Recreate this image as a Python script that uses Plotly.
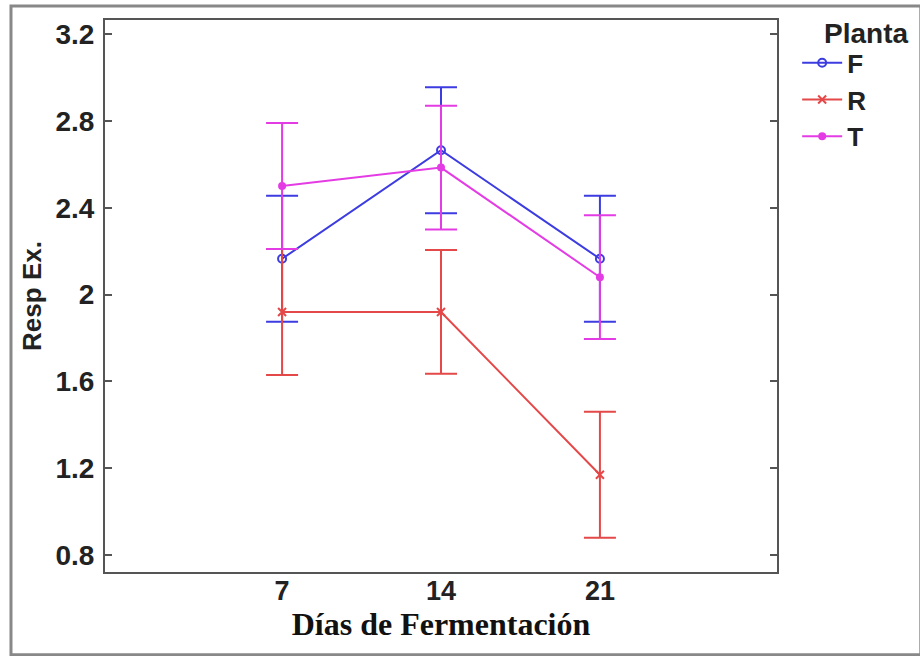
import plotly.graph_objects as go

dias = [7, 14, 21]
plantas = ["F", "R", "T"]
media_F = [2.165, 2.665, 2.165]
media_R = [1.92, 1.92, 1.17]
media_T = [2.50, 2.585, 2.08]
err_F = [0.29, 0.29, 0.29]
err_R = [0.29, 0.285, 0.29]
err_T = [0.29, 0.285, 0.285]
y_ticks = [0.8, 1.2, 1.6, 2.0, 2.4, 2.8, 3.2]
y_tick_labels = ["0.8", "1.2", "1.6", "2", "2.4", "2.8", "3.2"]

series = [
    ("F", media_F, err_F, "rgb(60,60,225)", "circle-open", 8),
    ("R", media_R, err_R, "rgb(228,72,72)", "x-thin-open", 8),
    ("T", media_T, err_T, "rgb(228,60,228)", "circle", 6),
]

fig = go.Figure()
for name, ys, es, col, sym, ms in series:
    fig.add_trace(go.Scatter(
        x=dias, y=ys, name="<b>%s</b>" % name, mode="lines+markers",
        line=dict(color=col, width=2),
        marker=dict(symbol=sym, size=ms, color=col, line=dict(color=col, width=2)),
        error_y=dict(type="data", array=es, visible=True, color=col, thickness=2, width=16),
    ))

fig.update_layout(
    width=920, height=656,
    margin=dict(l=105, r=143, t=20, b=84),
    paper_bgcolor="white", plot_bgcolor="white",
    font=dict(family="Liberation Sans, Arial, sans-serif", color="#222"),
    showlegend=True,
    legend=dict(
        x=1.03, y=0.965, xanchor="left", yanchor="top",
        font=dict(size=26, color="#222"),
        itemwidth=40, tracegroupgap=0,
        bgcolor="rgba(0,0,0,0)",
    ),
    xaxis=dict(
        range=[-0.8, 28.8], tickvals=dias, ticktext=["<b>%d</b>" % d for d in dias],
        tickfont=dict(size=27), showgrid=False, zeroline=False,
        showline=True, linecolor="#555", linewidth=2, mirror=True,
        ticks="", ticklabelstandoff=-6,
        title=dict(text="<b>Días de Fermentación</b>",
                   font=dict(family="Liberation Serif, Times New Roman, serif", size=32, color="#111"),
                   standoff=0),
    ),
    yaxis=dict(
        range=[0.722, 3.265], tickvals=y_ticks, ticktext=["<b>%s</b>" % t for t in y_tick_labels],
        tickfont=dict(size=28), showgrid=False, zeroline=False,
        showline=True, linecolor="#555", linewidth=2, mirror="ticks",
        ticks="inside", ticklen=7, tickwidth=2, tickcolor="#555", ticklabelstandoff=3,
        title=dict(text="<b>Resp Ex.</b>", font=dict(size=26, color="#222"), standoff=6),
    ),
    annotations=[dict(text="<b>Planta</b>", xref="paper", yref="paper",
                      x=1.067, y=0.976, xanchor="left", yanchor="middle",
                      showarrow=False, font=dict(size=28, color="#222"))],
    shapes=[dict(type="rect", xref="paper", yref="paper",
                 x0=-0.1399, x1=1.214, y0=-0.150, y1=1.0254,
                 line=dict(color="#888", width=3), layer="below")],
)

fig.write_html("out.html", config={"displayModeBar": False},
               post_script="document.body.style.margin='0';")
